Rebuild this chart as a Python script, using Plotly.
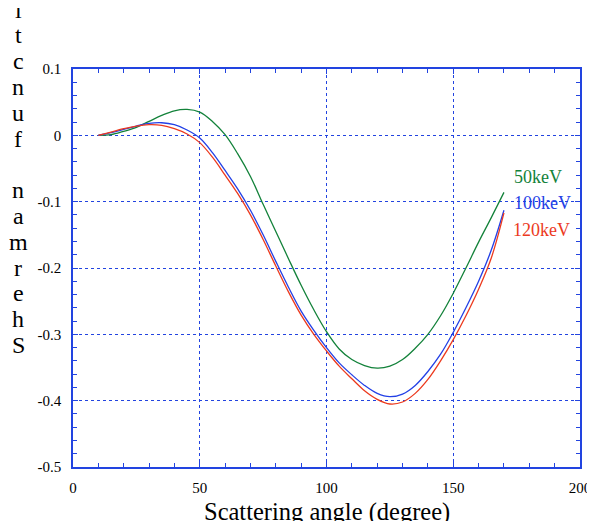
import plotly.graph_objects as go

# Sherman function vs scattering angle (every 5 degrees)
angle = [10, 15, 20, 25, 30, 35, 40, 45, 50, 55, 60, 65, 70, 75, 80, 85, 90,
         95, 100, 105, 110, 115, 120, 125, 130, 135, 140, 145, 150, 155, 160, 165, 170]

sherman_50 = [0.0, 0.001, 0.006, 0.012, 0.021, 0.030, 0.037, 0.039, 0.035, 0.021, 0.001,
              -0.028, -0.062, -0.104, -0.145, -0.186, -0.226, -0.263, -0.296, -0.322,
              -0.338, -0.347, -0.351, -0.348, -0.338, -0.321, -0.300, -0.272, -0.238,
              -0.200, -0.161, -0.124, -0.086]

sherman_100 = [0.0, 0.004, 0.009, 0.014, 0.018, 0.019, 0.016, 0.008, -0.004, -0.026,
               -0.053, -0.081, -0.113, -0.150, -0.190, -0.229, -0.265, -0.294, -0.320,
               -0.343, -0.361, -0.377, -0.389, -0.394, -0.390, -0.377, -0.356, -0.330,
               -0.297, -0.260, -0.220, -0.173, -0.113]

sherman_120 = [0.0, 0.005, 0.010, 0.014, 0.016, 0.015, 0.010, 0.002, -0.011, -0.033,
               -0.060, -0.088, -0.120, -0.157, -0.197, -0.236, -0.271, -0.300, -0.325,
               -0.348, -0.367, -0.385, -0.398, -0.405, -0.402, -0.389, -0.368, -0.340,
               -0.308, -0.272, -0.232, -0.185, -0.117]

series_names = ["50keV", "100keV", "120keV"]
series_colors = ["#13823a", "#2340e6", "#ec3a1e"]

x_ticks = [0, 50, 100, 150, 200]
y_ticks = [0.1, 0, -0.1, -0.2, -0.3, -0.4, -0.5]
y_ticktext = ["0.1", "0", "-0.1", "-0.2", "-0.3", "-0.4", "-0.5"]

AXIS_BLUE = "#2244e0"
SERIF = "Liberation Serif"

fig = go.Figure()

for ys, name, color in zip([sherman_50, sherman_100, sherman_120], series_names, series_colors):
    fig.add_trace(go.Scatter(x=angle, y=ys, mode="lines", name=name,
                             line=dict(color=color, width=1.3, shape="spline", smoothing=1.0)))

# curve labels at the right end of the curves
label_pos = [(183.4, -0.063), (185.4, -0.102), (185.0, -0.143)]
for (lx, ly), name, color in zip(label_pos, series_names, series_colors):
    fig.add_annotation(x=lx, y=ly, text=name, showarrow=False,
                       font=dict(family=SERIF, size=18, color=color))

# y title: upright letters stacked, reading bottom to top (top part runs off the page)
ytitle = "Sherman function"
for i, ch in enumerate(ytitle):
    if ch == " ":
        continue
    fig.add_annotation(xref="paper", yref="paper", x=-0.108, y=(398 - 276) / 398,
                       yshift=25.8 * i, text=ch, showarrow=False,
                       xanchor="center", yanchor="middle",
                       font=dict(family=SERIF, size=24, color="black"))

# x title
fig.add_annotation(xref="paper", yref="paper", x=0.5, y=-0.073, yanchor="top",
                   text="Scattering angle (degree)", showarrow=False,
                   font=dict(family=SERIF, size=24.5, color="black"))

# darker dotted grid line at x = 100
fig.add_shape(type="line", xref="x", yref="paper", x0=100, x1=100, y0=1, y1=0,
              line=dict(color="#15154a", width=1, dash="dot"), layer="below")

axis_common = dict(
    ticks="inside", ticklen=5, tickcolor=AXIS_BLUE, showline=True,
    linecolor=AXIS_BLUE, linewidth=1.5, mirror="allticks", showgrid=True,
    gridcolor=AXIS_BLUE, griddash="dot", gridwidth=1, zeroline=False,
    automargin=False, tickfont=dict(family=SERIF, size=15),
)

# the page body adds an 8px offset, so the figure is 8px smaller than the window
fig.update_layout(
    width=587, height=513,
    margin=dict(l=65, r=15, t=61, b=54),
    paper_bgcolor="white", plot_bgcolor="white",
    showlegend=False,
    font=dict(family=SERIF, size=15, color="black"),
    xaxis=dict(range=[0, 200], tickvals=x_ticks, ticklabelstandoff=6,
               minor=dict(dtick=10, ticks="inside", ticklen=4, tickcolor=AXIS_BLUE,
                          showgrid=False),
               **axis_common),
    yaxis=dict(range=[-0.5, 0.1], tickvals=y_ticks, ticktext=y_ticktext,
               ticklabelstandoff=7,
               minor=dict(dtick=0.02, ticks="inside", ticklen=4, tickcolor=AXIS_BLUE,
                          showgrid=False),
               **axis_common),
)

fig.write_html("out.html")
